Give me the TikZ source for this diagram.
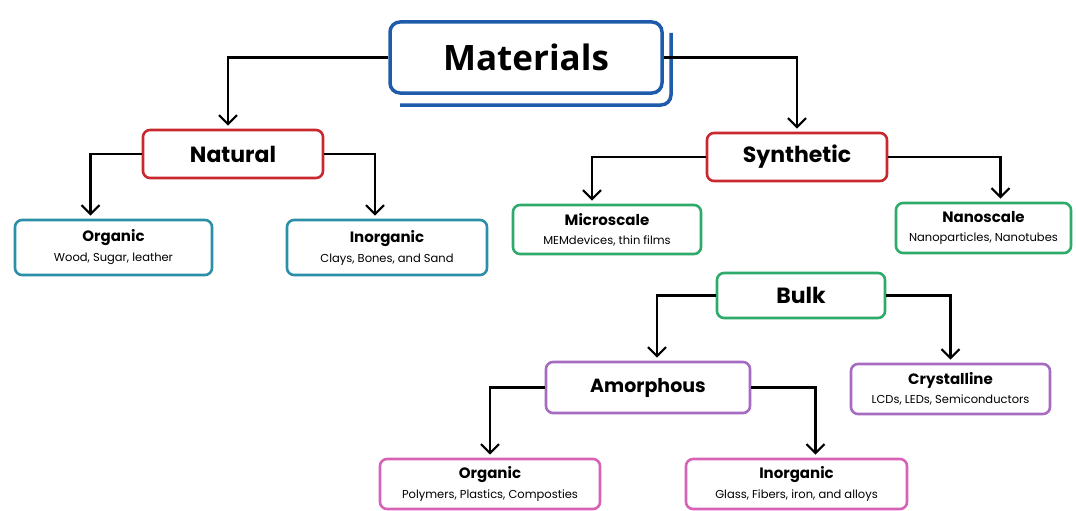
\documentclass[tikz,border=0pt]{standalone}
\usepackage{fontspec}
\setmainfont{Poppins}
\newfontfamily\titlefont{Open Sans}
\usetikzlibrary{positioning, calc, arrows.meta}
\definecolor{matblue}{HTML}{1E5BAA}
\definecolor{natred}{HTML}{C8282E}
\definecolor{natteal}{HTML}{2B8FA8}
\definecolor{syngreen}{HTML}{2EAA6A}
\definecolor{bulkpurple}{HTML}{A56CC1}
\definecolor{amorpink}{HTML}{D862B5}
\newcommand{\subtxt}[1]{{\fontsize{11.5}{14}\selectfont #1}}

\begin{document}
\begin{tikzpicture}[x=1pt, y=-1pt,
  box/.style={draw, rounded corners=7pt, line width=2.6pt, fill=white, align=center, inner sep=2pt},
  head/.style={box, font=\bfseries\fontsize{22}{26}\selectfont},
  leaf/.style={box, font=\fontsize{15}{18}\selectfont},
  arr/.style={line width=2.2pt, -{Straight Barb[length=9pt,width=18pt,line width=2.2pt]}, shorten >=3pt}]
  \useasboundingbox (0,0) rectangle (1076,511);

  % top
  \draw[matblue, line width=3.5pt, rounded corners=10pt] (400,105) -- (671,105) -- (671,33);
  \node[box, draw=matblue, line width=3.5pt, rounded corners=10pt, minimum width=272pt, minimum height=71pt,
        font=\titlefont\bfseries\fontsize{35}{40}\selectfont] (mat) at (526,57.5) {Materials};

  % natural branch
  \node[head, draw=natred, minimum width=180pt, minimum height=48pt] (nat) at (233,154) {Natural};
  \node[leaf, draw=natteal, minimum width=197pt, minimum height=55pt] (org1) at (113.5,247.5)
    {\textbf{Organic}\\[2pt]\subtxt{Wood, Sugar, leather}};
  \node[leaf, draw=natteal, minimum width=200pt, minimum height=55pt] (inorg1) at (387,247.5)
    {\textbf{Inorganic}\\[2pt]\subtxt{Clays, Bones, and Sand}};

  % synthetic branch
  \node[head, draw=natred, minimum width=180pt, minimum height=48pt] (syn) at (797,157) {Synthetic};
  \node[leaf, draw=syngreen, minimum width=188pt, minimum height=49pt] (micro) at (607,229.5)
    {\textbf{Microscale}\\[1pt]\subtxt{MEMdevices, thin films}};
  \node[leaf, draw=syngreen, minimum width=175pt, minimum height=50pt] (nano) at (983.5,228)
    {\textbf{Nanoscale}\\[1pt]\subtxt{Nanoparticles, Nanotubes}};

  % bulk
  \node[head, draw=syngreen, minimum width=168pt, minimum height=45pt] (bulk) at (801,295.5) {Bulk};
  \node[head, draw=bulkpurple, minimum width=204pt, minimum height=51pt,
        font=\bfseries\fontsize{19}{22}\selectfont] (amor) at (648,387.5) {Amorphous};
  \node[leaf, draw=bulkpurple, minimum width=199pt, minimum height=50pt] (cryst) at (950.5,389)
    {\textbf{Crystalline}\\[1pt]\subtxt{LCDs, LEDs, Semiconductors}};
  \node[leaf, draw=amorpink, minimum width=220pt, minimum height=50pt] (org2) at (490,484)
    {\textbf{Organic}\\[2pt]\subtxt{Polymers, Plastics, Composties}};
  \node[leaf, draw=amorpink, minimum width=221pt, minimum height=50pt] (inorg2) at (796.5,484)
    {\textbf{Inorganic}\\[2pt]\subtxt{Glass, Fibers, iron, and alloys}};

  % connectors
  \draw[arr] (mat.west) -| ([xshift=-5pt]nat.north);
  \draw[arr] (mat.east) -| (syn.north);
  \draw[arr] (nat.west) -| ([xshift=-23pt]org1.north);
  \draw[arr] (nat.east) -| ([xshift=-12pt]inorg1.north);
  \draw[arr] (syn.west) -| ([xshift=-15pt]micro.north);
  \draw[arr] (syn.east) -| ([xshift=17pt]nano.north);
  \draw[arr] (bulk.west) -| ([xshift=9pt]amor.north);
  \draw[arr] (bulk.east) -| (cryst.north);
  \draw[arr] (amor.west) -| (org2.north);
  \draw[arr] (amor.east) -| ([xshift=19pt]inorg2.north);
\end{tikzpicture}
\end{document}
